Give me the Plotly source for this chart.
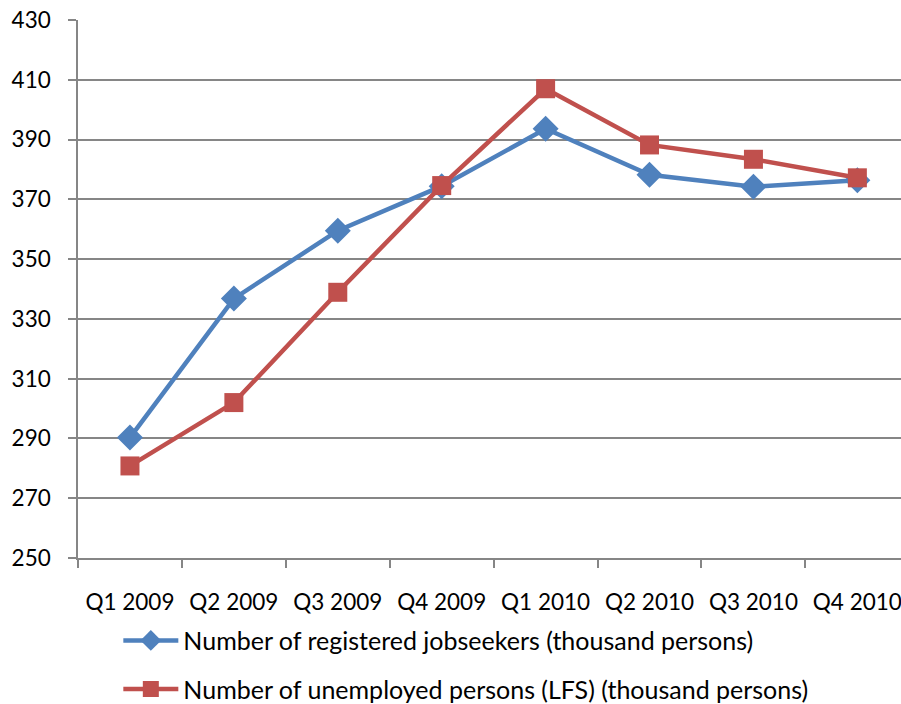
import plotly.graph_objects as go

quarters = ["Q1 2009", "Q2 2009", "Q3 2009", "Q4 2009",
            "Q1 2010", "Q2 2010", "Q3 2010", "Q4 2010"]
jobseekers = [290.3, 336.8, 359.5, 374.4, 393.6, 378.2, 374.2, 376.4]
unemployed = [280.8, 302.0, 338.9, 374.6, 407.0, 388.2, 383.4, 377.2]

font_family = "Lato, 'Open Sans', sans-serif"

fig = go.Figure()

fig.add_trace(go.Scatter(
    x=quarters, y=jobseekers,
    mode='lines+markers',
    name='Number of registered jobseekers (thousand persons)',
    legendgroup='a',
    line=dict(color='#4F81BD', width=4.5),
    marker=dict(symbol='diamond', size=20, color='#4F81BD')
))

fig.add_trace(go.Scatter(
    x=quarters, y=unemployed,
    mode='lines+markers',
    name='Number of unemployed persons (LFS) (thousand persons)',
    legendgroup='b',
    line=dict(color='#C0504D', width=4.5),
    marker=dict(symbol='square', size=19, color='#C0504D')
))

fig.update_layout(
    width=901, height=704,
    margin=dict(l=78, r=0, t=20, b=146, autoexpand=False),
    plot_bgcolor='white',
    paper_bgcolor='white',
    font=dict(family=font_family, size=22, color='black'),
    showlegend=True,
    legend=dict(
        orientation='v',
        x=0.049, xanchor='left',
        y=-0.111, yanchor='top',
        xref='paper', yref='paper',
        itemwidth=55,
        tracegroupgap=13,
        font=dict(size=25),
        bgcolor='rgba(0,0,0,0)'
    )
)

fig.update_xaxes(
    type='category',
    range=[-0.5, 7.42],
    automargin=False,
    showline=True, linecolor='#868686', linewidth=1.5,
    ticks='outside', tickson='boundaries', ticklen=8,
    tickcolor='#868686', tickwidth=1.5,
    ticklabelstandoff=23,
    showgrid=False,
    tickfont=dict(size=22.5)
)

fig.update_yaxes(
    range=[250, 430],
    tickvals=list(range(250, 431, 20)),
    automargin=False,
    showline=True, linecolor='#868686', linewidth=1.5,
    ticks='outside', ticklen=8,
    tickcolor='#868686', tickwidth=1.5,
    ticklabelstandoff=13,
    showgrid=True, gridcolor='#868686', gridwidth=1.5,
    zeroline=False,
    tickfont=dict(size=22.5)
)

# drop the default 8px body margin so the figure fills the window
fig.write_html("out.html",
               config={'displayModeBar': False},
               post_script="document.body.style.margin = '0';")
